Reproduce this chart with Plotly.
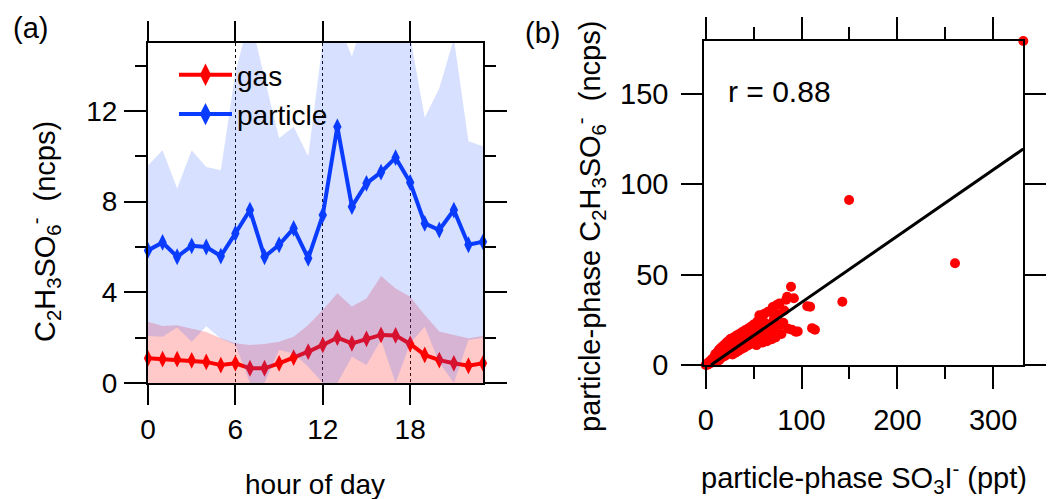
import plotly.graph_objects as go

# ---------------- data: panel (a) diurnal profile ----------------
hours = list(range(24))
gas_median = [1.09, 1.05, 1.05, 1.00, 0.93, 0.79, 0.87, 0.65, 0.65, 0.87, 1.12, 1.38,
              1.68, 2.00, 1.75, 1.95, 2.12, 2.10, 1.72, 1.24, 1.01, 0.87, 0.76, 0.87]
gas_lower = [0.0, 0.0, 0.0, 0.0, 0.0, 0.0, 0.0, 0.0, 0.0, 0.0, 0.0, 0.0,
             0.0, 0.0, 0.0, 0.0, 0.0, 0.0, 0.0, 0.0, 0.0, 0.0, 0.0, 0.0]
gas_upper = [2.70, 2.51, 2.55, 2.41, 2.25, 1.97, 1.75, 1.68, 1.72, 1.82, 2.04, 2.56,
             3.22, 3.96, 3.37, 3.73, 4.72, 4.17, 3.81, 3.00, 2.27, 2.12, 1.97, 2.07]
particle_median = [5.85, 6.20, 5.57, 6.05, 6.00, 5.60, 6.60, 7.63, 5.57, 6.10, 6.82, 5.50,
                   7.41, 11.30, 7.78, 8.81, 9.30, 9.94, 8.85, 7.04, 6.75, 7.63, 6.10, 6.23]
particle_lower = [2.07, 2.04, 2.45, 1.82, 2.50, 1.95, 1.70, 0.00, 0.00, 1.46, 1.30, 0.72,
                  0.00, 0.00, 1.16, 0.79, 1.90, 0.00, 1.75, 2.48, 0.90, 0.00, 1.90, 2.00]
particle_upper = [9.60, 10.27, 8.58, 10.27, 9.53, 9.39, 13.70, 16.20, 13.45, 10.80, 11.30, 10.00,
                  15.05, 16.00, 14.40, 16.50, 17.00, 16.50, 15.30, 11.70, 13.00, 15.20, 10.66, 10.44]
hour_ticks = [0, 6, 12, 18]
a_y_ticks = [0, 4, 8, 12]
a_y_minor = [2, 6, 10, 14]

# ---------------- data: panel (b) scatter ----------------
so3i_ppt = [0, 1, 2, 3, 4, 5, 6, 7, 8, 9, 10, 10, 11, 12, 13, 14, 14, 15, 16, 17, 18, 18, 19,
            20, 20, 21, 22, 22, 23, 24, 25, 25, 26, 27, 27, 28, 29, 30, 30, 31, 32, 33, 33, 34,
            35, 36, 36, 37, 38, 39, 39, 40, 41, 42, 42, 43, 44, 45, 45, 46, 47, 48, 48, 49,
            50, 51, 51, 52, 53, 54, 55, 55, 56, 57, 58, 59, 59, 60, 61, 62, 63, 64, 65, 66,
            67, 68, 69, 70, 71, 72, 73, 74, 76, 77, 78, 79, 81, 82, 84, 85, 86, 89, 90, 92,
            94, 96, 106, 109, 111, 114, 142.6, 149.6, 260.2, 331.5]
c2h3so6_ncps = [0, 0.6, 0.2, 1.5, 0.8, 2.5, 1.2, 3.5, 1.8, 4.5, 2.4, 6, 1.6, 7, 3.8, 8.5, 2.6, 5.8,
                9.5, 4.2, 10.5, 6.4, 8.2, 11.5, 5, 7.4, 12.5, 9.2, 6.1, 13.4, 10.4, 7.2, 14.5,
                11.4, 8.3, 5.8, 15.2, 12.4, 9.1, 6.8, 16.3, 13.2, 10.2, 7.8, 17.2, 14.3, 11.1,
                8.7, 18.3, 15.1, 12.2, 9.6, 19.2, 16.1, 13.2, 10.6, 20.1, 17.3, 14.1, 11.4,
                21.2, 18.1, 15.2, 12.3, 22.4, 19.3, 16.1, 13.2, 11.0, 24.2, 20.3, 17.1, 27.5,
                14.8, 25.1, 21.4, 12.4, 18.2, 28.3, 23.2, 16.1, 13.1, 29.4, 21.3, 29.6, 18.2,
                14.3, 32.1, 25.2, 20.4, 15.3, 33.2, 28.1, 34.1, 22.3, 17.2, 23.4, 30.2, 36.1,
                37.8, 20.1, 43.3, 19.5, 36.9, 18.4, 18.6, 32.5, 32.2, 20.4, 19.5, 35.0, 91.3,
                56.3, 179.3]
fit_slope = 0.3666
fit_intercept = -2.0
fit_x = [5.5, 331.5]
r_value = 0.88
b_x_ticks = [0, 100, 200, 300]
b_x_minor = [50, 150, 250]
b_y_ticks = [0, 50, 100, 150]

# ---------------- styling ----------------
W, H = 1048, 499
FONT = "Liberation Sans, Arial, sans-serif"
RED = "#ff0000"
BLUE = "#0a3cff"


def px(x):
    return x / W


def py(y):
    return 1 - y / H


fig = go.Figure()

# gas band
fig.add_trace(go.Scatter(
    x=hours + hours[::-1], y=gas_upper + gas_lower[::-1],
    fill="toself", fillcolor="rgba(255,40,40,0.25)", line=dict(width=0),
    mode="lines", hoverinfo="skip", showlegend=False, xaxis="x", yaxis="y"))
# gas median
fig.add_trace(go.Scatter(
    x=hours, y=gas_median, mode="lines+markers", name="gas",
    line=dict(color=RED, width=4),
    marker=dict(symbol="diamond-tall", size=12, color=RED),
    cliponaxis=False, showlegend=False, xaxis="x", yaxis="y"))
# particle band
fig.add_trace(go.Scatter(
    x=hours + hours[::-1], y=particle_upper + particle_lower[::-1],
    fill="toself", fillcolor="rgba(40,90,255,0.19)", line=dict(width=0),
    mode="lines", hoverinfo="skip", showlegend=False, xaxis="x", yaxis="y"))
# particle median
fig.add_trace(go.Scatter(
    x=hours, y=particle_median, mode="lines+markers", name="particle",
    line=dict(color=BLUE, width=4),
    marker=dict(symbol="diamond-tall", size=12, color=BLUE),
    cliponaxis=False, showlegend=False, xaxis="x", yaxis="y"))
# legend entries
for nm, col in [("gas", RED), ("particle", BLUE)]:
    fig.add_trace(go.Scatter(
        x=[None], y=[None], mode="lines+markers", name=nm,
        line=dict(color=col, width=4),
        marker=dict(symbol="diamond-tall", size=16, color=col),
        showlegend=True, xaxis="x", yaxis="y"))

# panel (b)
fig.add_trace(go.Scatter(
    x=so3i_ppt, y=c2h3so6_ncps, mode="markers",
    marker=dict(color=RED, size=10, line=dict(width=0)),
    cliponaxis=False, showlegend=False, xaxis="x2", yaxis="y2"))
fig.add_trace(go.Scatter(
    x=fit_x, y=[fit_slope * v + fit_intercept for v in fit_x], mode="lines",
    line=dict(color="black", width=3), showlegend=False, xaxis="x2", yaxis="y2"))

axis_common = dict(showline=True, linecolor="black", linewidth=2, mirror="allticks",
                   ticks="outside", tickcolor="black", tickwidth=2, zeroline=False)
font_a = dict(family=FONT, size=28, color="black")
font_b = dict(family=FONT, size=29, color="black")

fig.update_layout(
    width=W, height=H, margin=dict(l=0, r=0, t=0, b=0, autoexpand=False),
    paper_bgcolor="white", plot_bgcolor="white",
    font=dict(family=FONT, color="black"),
    showlegend=True,
    legend=dict(x=px(174), y=py(50), xanchor="left", yanchor="top",
                bgcolor="rgba(0,0,0,0)", font=dict(family=FONT, size=28),
                itemwidth=53, tracegroupgap=0),
    xaxis=dict(domain=[px(148), px(483)], range=[0, 23], tickvals=hour_ticks,
               ticklen=20, showgrid=True, gridcolor="black", griddash="dot", gridwidth=1,
               anchor="y", ticklabelstandoff=0, tickfont=font_a, **axis_common),
    yaxis=dict(domain=[py(383), py(43)], range=[0, 15], tickvals=a_y_ticks,
               ticklen=22, showgrid=False, anchor="x", ticklabelstandoff=1, tickfont=font_a,
               minor=dict(tickvals=a_y_minor, ticklen=11, tickwidth=2, tickcolor="black",
                          ticks="outside", showgrid=False),
               **axis_common),
    xaxis2=dict(domain=[px(704.3), px(1023.3)], range=[-1.5, 331.5], tickvals=b_x_ticks,
                ticklen=22, showgrid=False, anchor="y2", ticklabelstandoff=6, tickfont=font_b,
                minor=dict(tickvals=b_x_minor, ticklen=12, tickwidth=2, tickcolor="black",
                           ticks="outside", showgrid=False),
                **axis_common),
    yaxis2=dict(domain=[py(365), py(41)], range=[0, 179.3], tickvals=b_y_ticks,
                ticklen=21, showgrid=False, anchor="x2", ticklabelstandoff=7, tickfont=font_b,
                **axis_common),
)

ann = [
    dict(text="(a)", x=px(30), y=py(28), size=29, angle=0),
    dict(text="(b)", x=px(542), y=py(33), size=29, angle=0),
    dict(text=f"r = {r_value:.2f}", x=px(779), y=py(92), size=30, angle=0),
    dict(text="hour of day", x=px(315), y=py(484), size=28, angle=0),
    dict(text="C<sub>2</sub>H<sub>3</sub>SO<sub>6</sub><sup>-</sup>  (ncps)",
         x=px(45), y=py(232), size=29, angle=-90),
    dict(text="particle-phase C<sub>2</sub>H<sub>3</sub>SO<sub>6</sub><sup>-</sup>  (ncps)",
         x=px(590), y=py(227), size=29, angle=-90),
    dict(text="particle-phase SO<sub>3</sub>I<sup>-</sup> (ppt)",
         x=px(864), y=py(478), size=29, angle=0),
]
for a in ann:
    fig.add_annotation(text=a["text"], x=a["x"], y=a["y"], xref="paper", yref="paper",
                       xanchor="center", yanchor="middle", showarrow=False,
                       textangle=a["angle"],
                       font=dict(family=FONT, size=a["size"], color="black"))

fig.write_html("out.html", config={"displayModeBar": False},
               post_script="document.body.style.margin='0';document.body.style.overflow='hidden';")
